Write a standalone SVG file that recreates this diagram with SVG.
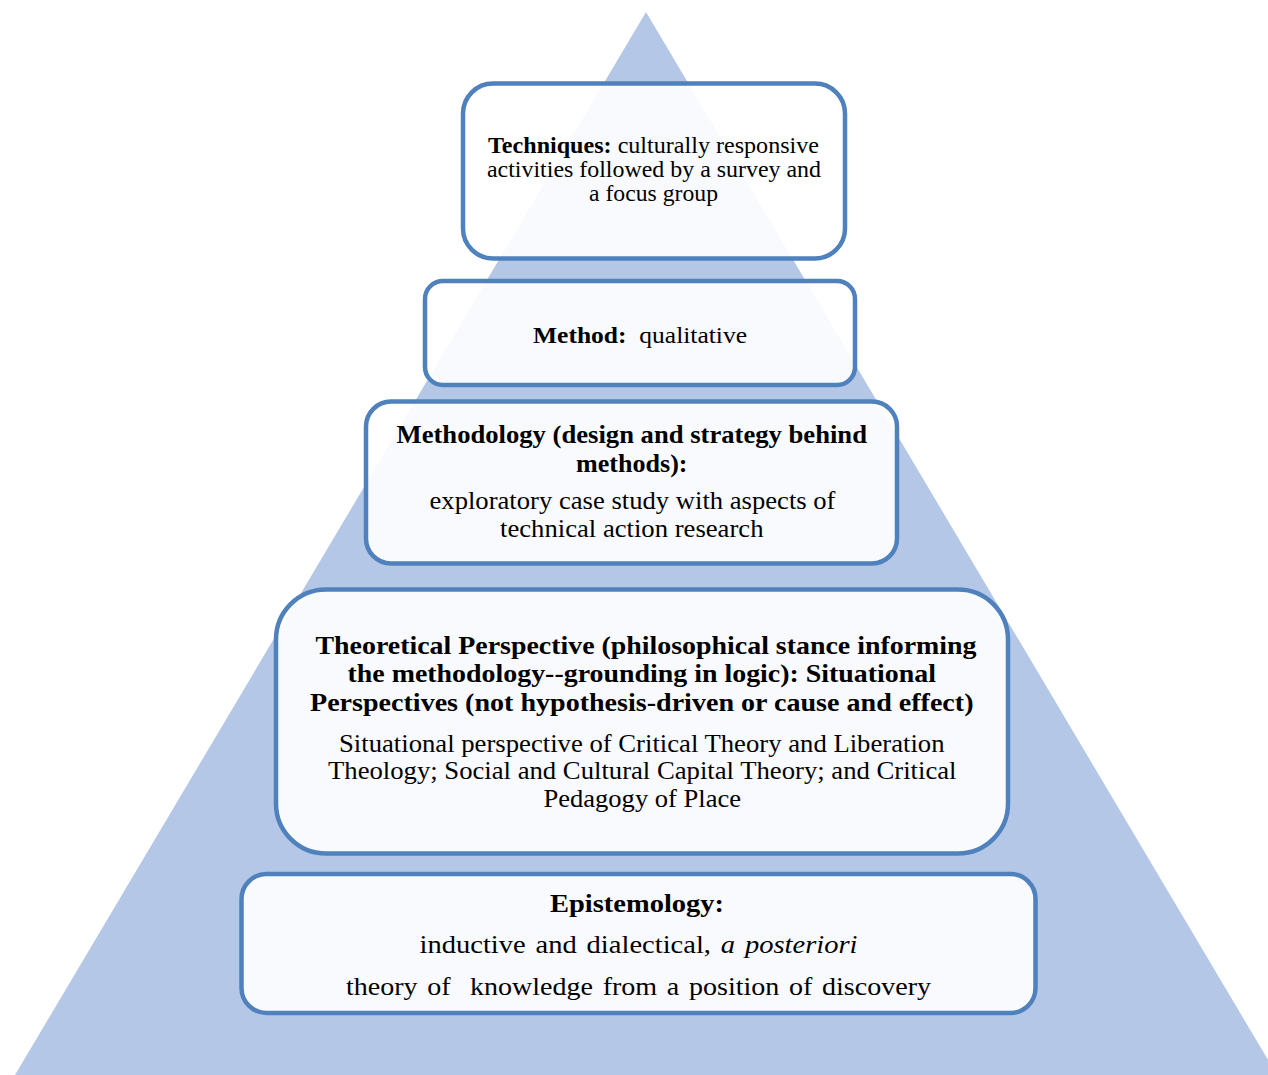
<svg xmlns="http://www.w3.org/2000/svg" width="1268" height="1075" viewBox="0 0 1268 1075">
  <style>
    .box { fill: #ffffff; fill-opacity: 0.9; stroke: #4F81BD; stroke-width: 4.5; }
    .t { font-family: "Liberation Serif", "Times New Roman", serif; fill: #000000; }
    .b { font-weight: bold; }
    .i { font-style: italic; }
    .ws { word-spacing: 2.5px; }
  </style>
  <rect x="0" y="0" width="1268" height="1075" fill="#ffffff"/>

  <!-- background pyramid -->
  <polygon id="pyramid" points="646,12 15,1075 1277,1075" fill="#B4C7E7"/>

  <!-- Techniques -->
  <g id="techniques">
    <rect class="box" x="463" y="83.5" width="382" height="175" rx="30" ry="30"/>
    <text class="t" font-size="23" x="488" y="153" textLength="331" lengthAdjust="spacingAndGlyphs"><tspan class="b">Techniques:</tspan> culturally responsive</text>
    <text class="t" font-size="23" x="487" y="177" textLength="334" lengthAdjust="spacingAndGlyphs">activities followed by a survey and</text>
    <text class="t" font-size="23" x="589" y="201" textLength="129" lengthAdjust="spacingAndGlyphs">a focus group</text>
  </g>

  <!-- Method -->
  <g id="method">
    <rect class="box" x="425" y="281" width="430" height="104" rx="18" ry="18"/>
    <text class="t" font-size="24" x="533" y="343" textLength="214" lengthAdjust="spacingAndGlyphs" xml:space="preserve"><tspan class="b">Method:</tspan>  qualitative</text>
  </g>

  <!-- Methodology -->
  <g id="methodology">
    <rect class="box" x="366" y="401.5" width="531" height="162" rx="25" ry="25"/>
    <text class="t b" font-size="24.5" x="396.5" y="443" textLength="470.5" lengthAdjust="spacingAndGlyphs">Methodology (design and strategy behind</text>
    <text class="t b" font-size="24.5" x="576" y="471.5" textLength="111.5" lengthAdjust="spacingAndGlyphs">methods):</text>
    <text class="t" font-size="24.5" x="429.5" y="509" textLength="406" lengthAdjust="spacingAndGlyphs">exploratory case study with aspects of</text>
    <text class="t" font-size="24.5" x="500" y="537" textLength="263.5" lengthAdjust="spacingAndGlyphs">technical action research</text>
  </g>

  <!-- Theoretical Perspective -->
  <g id="theoretical-perspective">
    <rect class="box" x="276" y="589.5" width="732" height="264" rx="50" ry="50"/>
    <text class="t b" font-size="25.5" x="315.5" y="654" textLength="661" lengthAdjust="spacingAndGlyphs">Theoretical Perspective (philosophical stance informing</text>
    <text class="t b" font-size="25.5" x="347.5" y="682" textLength="588.5" lengthAdjust="spacingAndGlyphs">the methodology--grounding in logic): Situational</text>
    <text class="t b" font-size="25.5" x="310" y="710.5" textLength="663.5" lengthAdjust="spacingAndGlyphs">Perspectives (not hypothesis-driven or cause and effect)</text>
    <text class="t" font-size="25" x="339" y="751.5" textLength="605.5" lengthAdjust="spacingAndGlyphs">Situational perspective of Critical Theory and Liberation</text>
    <text class="t" font-size="25" x="328" y="779" textLength="628.5" lengthAdjust="spacingAndGlyphs">Theology; Social and Cultural Capital Theory; and Critical</text>
    <text class="t" font-size="25" x="543.5" y="806.5" textLength="197.5" lengthAdjust="spacingAndGlyphs">Pedagogy of Place</text>
  </g>

  <!-- Epistemology -->
  <g id="epistemology">
    <rect class="box" x="241.5" y="874" width="794" height="139" rx="25" ry="25"/>
    <text class="t b" font-size="26" x="550" y="911.5" textLength="174" lengthAdjust="spacingAndGlyphs">Epistemology:</text>
    <text class="t ws" font-size="26" x="419.5" y="952.5" textLength="438" lengthAdjust="spacingAndGlyphs">inductive and dialectical, <tspan class="i">a posteriori</tspan></text>
    <text class="t ws" font-size="26" x="346" y="994.5" textLength="585" lengthAdjust="spacingAndGlyphs" xml:space="preserve">theory of  knowledge from a position of discovery</text>
  </g>
</svg>
